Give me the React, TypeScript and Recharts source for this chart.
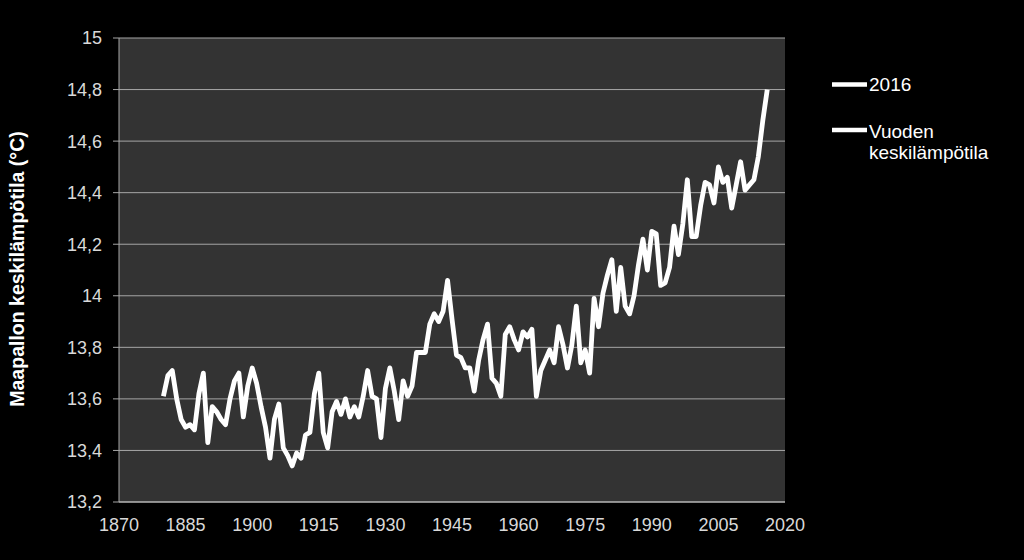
import { LineChart, Line, XAxis, YAxis, CartesianGrid, Legend, Label } from 'recharts';

// vuosittainen maapallon keskilämpötila 1880–2016 (luettu kuvasta)
const firstYear = 1880;
const temps = [
  13.61, 13.69, 13.71, 13.60, 13.52, 13.49, 13.50, 13.48, 13.62, 13.70,
  13.43, 13.57, 13.55, 13.52, 13.50, 13.60, 13.67, 13.70, 13.53, 13.65,
  13.72, 13.66, 13.57, 13.49, 13.37, 13.52, 13.58, 13.41, 13.38, 13.34,
  13.39, 13.37, 13.46, 13.47, 13.62, 13.70, 13.47, 13.41, 13.55, 13.59,
  13.54, 13.60, 13.53, 13.57, 13.53, 13.61, 13.71, 13.61, 13.60, 13.45,
  13.64, 13.72, 13.63, 13.52, 13.67, 13.61, 13.65, 13.78, 13.78, 13.78,
  13.89, 13.93, 13.90, 13.94, 14.06, 13.91, 13.77, 13.76, 13.72, 13.72,
  13.63, 13.75, 13.83, 13.89, 13.68, 13.66, 13.61, 13.85, 13.88, 13.83,
  13.79, 13.86, 13.84, 13.87, 13.61, 13.71, 13.75, 13.79, 13.74, 13.88,
  13.81, 13.72, 13.81, 13.96, 13.74, 13.79, 13.70, 13.99, 13.88, 14.01,
  14.08, 14.14, 13.94, 14.11, 13.96, 13.93, 14.00, 14.12, 14.22, 14.10,
  14.25, 14.24, 14.04, 14.05, 14.11, 14.27, 14.16, 14.28, 14.45, 14.23,
  14.23, 14.35, 14.44, 14.43, 14.36, 14.50, 14.44, 14.46, 14.34, 14.43,
  14.52, 14.41, 14.43, 14.45, 14.54, 14.68, 14.80,
];
const highlightYear = 2016;

const xTicks = [1870, 1885, 1900, 1915, 1930, 1945, 1960, 1975, 1990, 2005, 2020];
const yTicks = [13.2, 13.4, 13.6, 13.8, 14, 14.2, 14.4, 14.6, 14.8, 15];

const data = temps.map((t, i) => ({
  year: firstYear + i,
  temp: t,
  latest: firstYear + i === highlightYear ? t : null,
}));

const font = '"Liberation Sans", Arial, sans-serif';

function LegendBox(props: any) {
  const items = props.payload || [];
  const rows = [
    { y: 14.5, lines: [20.7] },
    { y: 60, lines: [68.3, 89] },
  ];
  return (
    <svg width={190} height={100} style={{ overflow: 'visible' }}>
      {items.map((it: any, i: number) => {
        const r = rows[i];
        if (!r) return null;
        const words = String(it.value).split(' ');
        return (
          <g key={i}>
            <line x1={0} x2={35} y1={r.y} y2={r.y} stroke="#fff" strokeWidth={4.5} />
            {words.map((w, j) => (
              <text key={j} x={37} y={r.lines[j] ?? r.lines[0] + 20 * j} fill="#fff" fontSize={19} fontFamily={font}>
                {w}
              </text>
            ))}
          </g>
        );
      })}
    </svg>
  );
}

export default function App() {
  return (
    <div style={{ position: 'absolute', left: 0, top: 0, width: 1024, height: 560, background: '#000' }}>
      <LineChart width={1024} height={560} data={data} margin={{ top: 38, right: 239, bottom: 0, left: 0 }}>
        <CartesianGrid vertical={false} stroke="#a6a6a6" fill="#333333" />
        <XAxis
          dataKey="year"
          type="number"
          domain={[1870, 2020]}
          ticks={xTicks}
          height={58}
          tickLine={false}
          tickSize={0}
          tickMargin={16}
          axisLine={{ stroke: '#bfbfbf' }}
          tick={{ fill: '#d9d9d9', fontSize: 18, fontFamily: font }}
        />
        <YAxis
          type="number"
          domain={[13.2, 15]}
          ticks={yTicks}
          width={119}
          tickSize={6}
          tickMargin={11}
          axisLine={{ stroke: '#a6a6a6' }}
          tickLine={{ stroke: '#a6a6a6' }}
          tick={{ fill: '#d9d9d9', fontSize: 18, fontFamily: font }}
          tickFormatter={(v: number) => String(v).replace('.', ',')}
        >
          <Label
            content={() => (
              <text
                x={17}
                y={269}
                transform="rotate(-90, 17, 269)"
                textAnchor="middle"
                dominantBaseline="central"
                fill="#fff"
                fontSize={19.5}
                fontWeight="bold"
                fontFamily={font}
              >
                Maapallon keskilämpötila (°C)
              </text>
            )}
          />
        </YAxis>
        <Legend
          layout="vertical"
          align="center"
          verticalAlign="middle"
          content={<LegendBox />}
          wrapperStyle={{ left: 832, top: 70, width: 190 }}
        />
        <Line dataKey="latest" name="2016" stroke="#fff" strokeWidth={4.5} dot={false} isAnimationActive={false} />
        <Line
          dataKey="temp"
          name="Vuoden keskilämpötila"
          stroke="#fff"
          strokeWidth={4.8}
          strokeLinejoin="round"
          dot={false}
          isAnimationActive={false}
        />
      </LineChart>
    </div>
  );
}
